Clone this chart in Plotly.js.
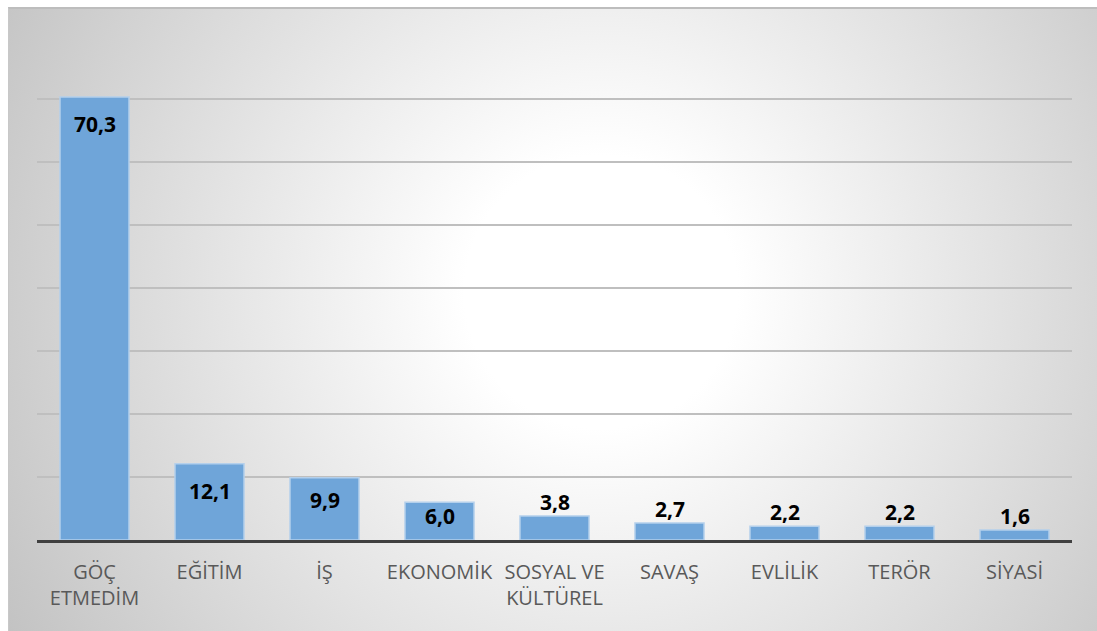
<!DOCTYPE html>
<html>
<head>
<meta charset="utf-8">
<script src="https://cdn.plot.ly/plotly-3.0.1.min.js"></script>
<style>
  html, body { margin: 0; padding: 0; background: #ffffff; }
  #wrap { position: relative; width: 1097px; height: 631px; overflow: hidden; }
  #bg {
    position: absolute; left: 8px; top: 7px; right: 0; bottom: 0;
    background: radial-gradient(circle farthest-corner at 592px 283px, #ffffff 0%, #ffffff 20%, #c3c3c3 100%);
    border-top: 2px solid #bdbdbd;
    border-left: 1px solid #c8c8c8;
  }
  #chart { position: absolute; left: 0; top: 0; width: 1097px; height: 631px; }
</style>
</head>
<body>
<div id="wrap">
  <div id="bg"></div>
  <div id="chart"></div>
</div>
<script>
const categories = ["GÖÇ<br>ETMEDİM", "EĞİTİM", "İŞ", "EKONOMİK", "SOSYAL VE<br>KÜLTÜREL", "SAVAŞ", "EVLİLİK", "TERÖR", "SİYASİ"];
const values = [70.3, 12.1, 9.9, 6.0, 3.8, 2.7, 2.2, 2.2, 1.6];
const yTickStep = 10;
const yMax = 80;

const labels = values.map(v => v.toFixed(1).replace('.', ','));

const plotTop = 36, plotBottom = 91, H = 631;
const pxPerUnit = (H - plotTop - plotBottom) / yMax;

const labelFont = { family: 'Open Sans, sans-serif', size: 21, color: '#000000', weight: 700 };

const annotations = values.map((v, i) => {
  const inside = v >= 5;
  return {
    x: categories[i],
    y: v,
    xref: 'x',
    yref: 'y',
    text: labels[i],
    showarrow: false,
    font: labelFont,
    yanchor: inside ? 'middle' : 'bottom',
    yshift: inside ? -Math.min(27, v * pxPerUnit * 0.36) : -2
  };
});

const trace = {
  type: 'bar',
  x: categories,
  y: values,
  marker: { color: '#6fa5d9', line: { color: '#b4d0ec', width: 1.5 } },
  width: 0.6,
  hoverinfo: 'x+y'
};

const layout = {
  width: 1097,
  height: 631,
  margin: { l: 37, r: 25, t: plotTop, b: plotBottom },
  paper_bgcolor: 'rgba(0,0,0,0)',
  plot_bgcolor: 'rgba(0,0,0,0)',
  showlegend: false,
  annotations: annotations,
  xaxis: {
    type: 'category',
    showline: true,
    linecolor: '#404040',
    linewidth: 3,
    showgrid: false,
    zeroline: false,
    ticks: '',
    ticklabelstandoff: 12,
    tickfont: { family: 'Open Sans, sans-serif', size: 20, color: '#595959' },
    automargin: false
  },
  yaxis: {
    range: [0, yMax],
    dtick: yTickStep,
    showgrid: true,
    gridcolor: '#bfbfbf',
    gridwidth: 1.5,
    showticklabels: false,
    zeroline: false,
    showline: false,
    ticks: '',
    automargin: false
  }
};

Plotly.newPlot('chart', [trace], layout, { displayModeBar: false });
</script>
</body>
</html>
